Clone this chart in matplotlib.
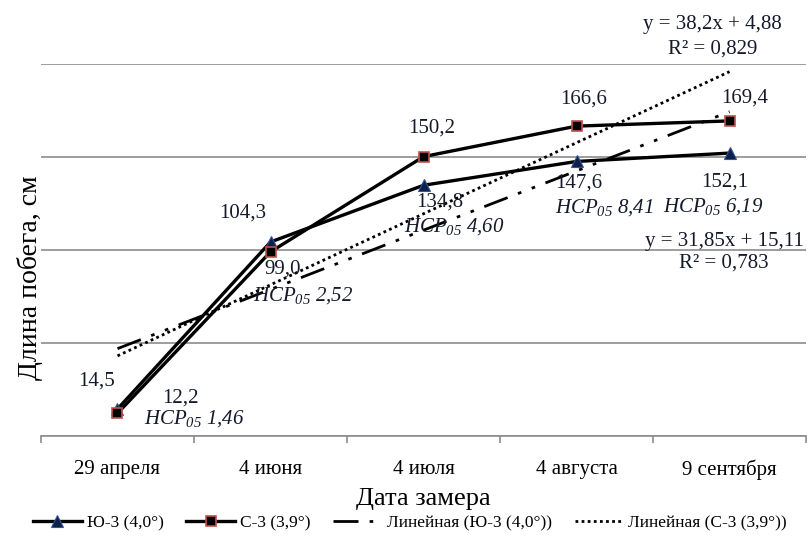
import matplotlib.pyplot as plt
import numpy as np

plt.rcParams['font.family'] = ['Liberation Serif', 'DejaVu Serif']
plt.rcParams['mathtext.fontset'] = 'custom'
plt.rcParams['mathtext.rm'] = 'Liberation Serif:italic'
plt.rcParams['mathtext.it'] = 'Liberation Serif:italic'

# data
dates = ["29 апреля", "4 июня", "4 июля", "4 августа", "9 сентября"]
yu3 = [14.5, 104.3, 134.8, 147.6, 152.1]
s3 = [12.2, 99.0, 150.2, 166.6, 169.4]
hsr = ["1,46", "2,52", "4,60", "8,41", "6,19"]

yu3_name = "Ю-3 (4,0°)"
s3_name = "С-3 (3,9°)"

# label offsets in pixels (dx, dy) relative to the points
yu3_off = [(-21, 28), (-28, 29), (16, -17), (2, -22), (-5, -29)]
s3_off = [(63, 15), (12, -17), (8, 29), (7, 27), (15, 23)]
hsr_off = [(77, -10), (33, -54), (31, -41), (28, -46), (-16, -53)]

txt_color = '#141a2a'
x = np.arange(1, len(dates) + 1)


def fmt(v, nd=2, fixed=False):
    """number with a decimal comma"""
    s = f"{v:.{nd}f}" if fixed else f"{round(v, nd):g}"
    return s.replace('.', ',')


def fit(y):
    k, b = np.polyfit(x, y, 1)
    pred = k * x + b
    y = np.asarray(y)
    r2 = 1 - np.sum((y - pred) ** 2) / np.sum((y - y.mean()) ** 2)
    # Excel shows the value cut to 3 digits here
    r2 = np.floor(r2 * 1000) / 1000
    return k, b, pred, r2


fig = plt.figure(figsize=(8.07, 5.41), dpi=100)
ax = fig.add_axes([0.0508, 0.1941, 0.948, 0.6876])

ax.plot(x, yu3, color='black', lw=2.4, marker='^', ms=9,
        mfc='#0f1f45', mec='#2f5597', mew=0.8, label=yu3_name, zorder=4)
ax.plot(x, s3, color='black', lw=2.4, marker='s', ms=7.5,
        mfc='black', mec='#c0504d', mew=1.2, label=s3_name, zorder=4)

k1, b1, p1, r1 = fit(yu3)
k2, b2, p2, r2 = fit(s3)
ax.plot(x, p1, color='black', lw=2, dashes=(9, 4, 1.3, 4, 1.3, 4),
        label="Линейная (" + yu3_name + ")", zorder=3)
ax.plot(x, p2, color='black', lw=2, linestyle=(0, (1, 1.2)),
        label="Линейная (" + s3_name + ")", zorder=3)

for i in range(len(dates)):
    ax.annotate(fmt(yu3[i], 1, True), (x[i], yu3[i]), xytext=yu3_off[i],
                textcoords='offset pixels', ha='center', va='center',
                fontsize=15, color=txt_color, zorder=5)
    ax.annotate(fmt(s3[i], 1, True), (x[i], s3[i]), xytext=s3_off[i],
                textcoords='offset pixels', ha='center', va='center',
                fontsize=15, color=txt_color, zorder=5)
    ax.annotate(r"$\mathit{НСР}_{05}$ " + hsr[i], (x[i], yu3[i]),
                xytext=hsr_off[i], textcoords='offset pixels',
                ha='center', va='center', fontsize=15, style='italic',
                color=txt_color, zorder=5)

# trend equations
ax.text(4.965, 104.5, f"y = {fmt(k1)}x + {fmt(b1)}", ha='center',
        va='center', fontsize=15, color=txt_color, clip_on=False)
ax.text(4.965, 93, f"R² = {fmt(r1, 3, True)}", ha='center', va='center',
        fontsize=15, color=txt_color)
ax.text(4.89, 221, f"y = {fmt(k2)}x + {fmt(b2)}", ha='center', va='center',
        fontsize=15, color=txt_color, clip_on=False)
ax.text(4.89, 208, f"R² = {fmt(r2, 3, True)}", ha='center', va='center',
        fontsize=15, color=txt_color, clip_on=False)

ax.set_xlim(0.5, 5.5)
ax.set_ylim(0, 200)
ax.set_yticks([0, 50, 100, 150, 200])
ax.set_yticklabels([])
ax.tick_params(axis='y', length=0)
ax.grid(axis='y', color='#8c8c8c', lw=1.2)
ax.set_axisbelow(True)

ax.set_xticks(np.arange(0.5, 6, 1), minor=False)
ax.set_xticklabels([])
ax.set_xticks(x, minor=True)
ax.set_xticklabels(dates, minor=True, fontsize=15)
ax.tick_params(axis='x', which='major', length=5, color='#8c8c8c', width=1.2)
ax.tick_params(axis='x', which='minor', length=0, pad=17)

for side in ['left', 'right', 'top']:
    ax.spines[side].set_visible(False)
ax.spines['bottom'].set_color('#8c8c8c')
ax.spines['bottom'].set_linewidth(1.2)

ax.set_xlabel("Дата замера", fontsize=19, labelpad=6)
ax.set_ylabel("Длина побега, см", fontsize=20)
ax.yaxis.set_label_coords(0.002, 0.425)

fig.legend(loc='center', bbox_to_anchor=(0.508, 0.033), ncol=4,
           frameon=False, fontsize=12.5, handlelength=2.8,
           columnspacing=1.3, handletextpad=0.3)

fig.savefig('out.png', dpi=100)
